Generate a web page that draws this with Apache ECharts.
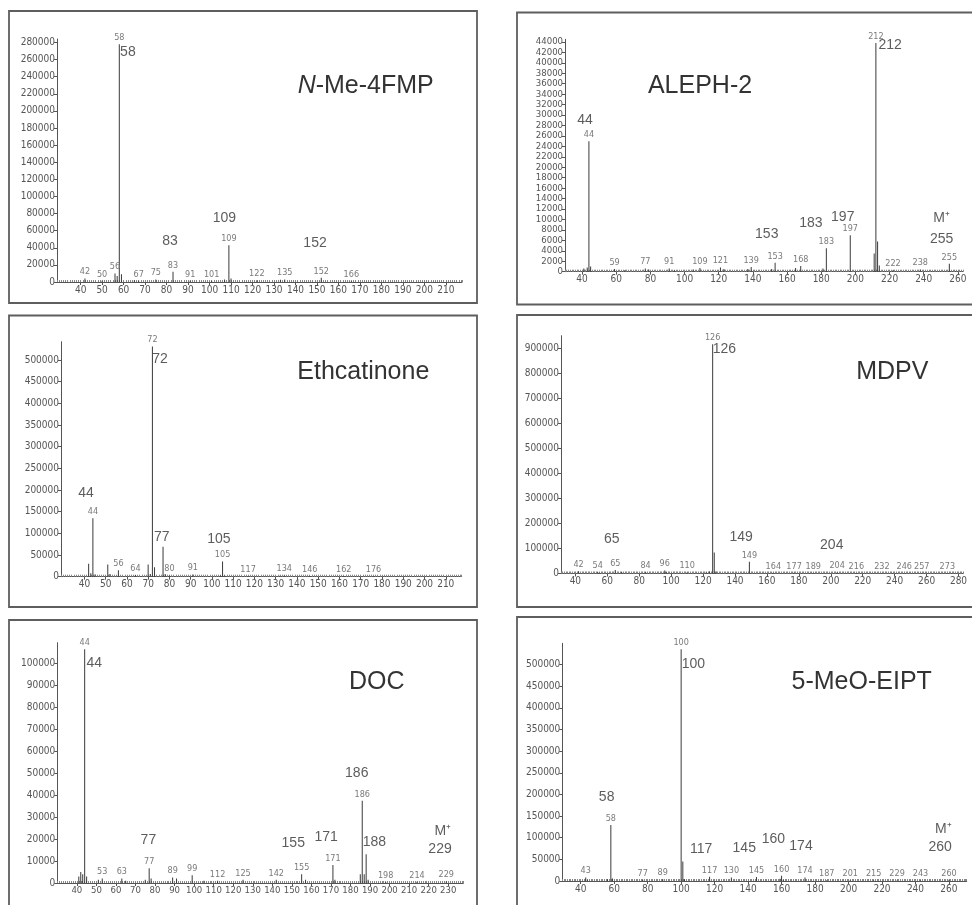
<!DOCTYPE html>
<html><head><meta charset="utf-8">
<script src="https://cdn.jsdelivr.net/npm/echarts@6/dist/echarts.min.js"></script>
<style>html,body{margin:0;padding:0;background:#fff}#c{width:972px;height:905px}</style>
</head><body><div id="c"></div>
<script>
// ---------- Panel 1: N-Me-4FMP ----------
const p1Title = '{i|N}-Me-4FMP';
const p1Mass = [42,50,56,57,58,59,65,67,75,83,91,101,107,109,110,122,133,135,152,166];
const p1Int  = [4000,1500,10000,7000,278000,9000,2000,1500,3000,12000,1500,1500,3000,43000,4000,2000,2500,3000,5000,1000];
const p1Labeled = [42,50,56,58,67,75,83,91,101,109,122,135,152,166];
const p1AnnText = ['58','83','109','152'];
const p1AnnMass = [62.0,81.6,106.9,149.1];
const p1AnnInt  = [268800,47900,74400,45900];
const p1XTicks = [40,50,60,70,80,90,100,110,120,130,140,150,160,170,180,190,200,210];
const p1YTicks = [0,20000,40000,60000,80000,100000,120000,140000,160000,180000,200000,220000,240000,260000,280000];

// ---------- Panel 2: ALEPH-2 ----------
const p2Title = 'ALEPH-2';
const p2Mass = [41,43,44,45,59,65,77,79,91,94,105,109,121,123,137,139,151,153,165,168,181,183,197,211,212,213,214,222,238,255];
const p2Int  = [600,800,25000,1000,500,300,600,400,600,300,400,700,800,500,500,900,500,1700,700,1100,600,4500,7000,3500,43800,5800,1200,300,400,1500];
const p2Labeled = [44,59,77,91,109,121,139,153,168,183,197,212,222,238,255];
const p2AnnText = ['44','212','153','183','197','M\u207A','255'];
const p2AnnMass = [41.7,220.3,148.1,174.0,192.6,250.5,250.5];
const p2AnnInt  = [29050,43400,7160,9380,10530,10230,6260];
const p2XTicks = [40,60,80,100,120,140,160,180,200,220,240,260];
const p2YTicks = [0,2000,4000,6000,8000,10000,12000,14000,16000,18000,20000,22000,24000,26000,28000,30000,32000,34000,36000,38000,40000,42000,44000];

// ---------- Panel 3: Ethcatinone ----------
const p3Title = 'Ethcatinone';
const p3Mass = [42,43,44,45,51,52,56,64,70,71,72,73,77,78,80,91,104,105,106,117,132,134,146,162,176];
const p3Int  = [30000,8000,135000,5000,28000,6000,15000,4000,28000,6000,531000,22000,69000,6000,3000,5000,3000,35000,3000,1500,2000,3000,1500,1500,1000];
const p3Labeled = [44,56,64,72,80,91,105,117,134,146,162,176];
const p3AnnText = ['44','72','77','105'];
const p3AnnMass = [40.8,75.6,76.4,103.3];
const p3AnnInt  = [193700,501400,90900,86300];
const p3XTicks = [40,50,60,70,80,90,100,110,120,130,140,150,160,170,180,190,200,210];
const p3YTicks = [0,50000,100000,150000,200000,250000,300000,350000,400000,450000,500000];

// ---------- Panel 4: MDPV ----------
const p4Title = 'MDPV';
const p4Mass = [42,54,55,65,69,84,96,97,110,122,124,126,127,128,135,149,164,177,189,204,216,232,246,257,273];
const p4Int  = [9000,5000,3000,14000,6000,5000,12000,5000,4000,5000,8000,917000,84000,8000,2000,47000,3000,3000,2000,5000,2000,1000,1000,1000,1000];
const p4Labeled = [42,54,65,84,96,110,126,149,164,177,189,204,216,232,246,257,273];
const p4AnnText = ['65','126','149','204'];
const p4AnnMass = [62.8,133.3,143.8,200.6];
const p4AnnInt  = [136800,896600,147200,114000];
const p4XTicks = [40,60,80,100,120,140,160,180,200,220,240,260,280];
const p4YTicks = [0,100000,200000,300000,400000,500000,600000,700000,800000,900000];

// ---------- Panel 5: DOC ----------
const p5Title = 'DOC';
const p5Mass = [41,42,43,44,45,51,53,63,65,75,77,78,89,91,99,105,112,125,142,155,157,171,172,185,186,187,188,189,198,214,229];
const p5Int  = [3000,5000,4000,106600,3000,1500,2000,2000,1000,1500,6700,2000,2500,2000,3500,1000,1000,1500,1500,4000,1500,8200,1500,4000,37500,4000,13100,1500,500,600,800];
const p5Labeled = [44,53,63,77,89,99,112,125,142,155,171,186,198,214,229];
const p5AnnText = ['44','77','155','171','186','188','M\u207A','229'];
const p5AnnMass = [48.9,76.6,150.7,167.5,183.2,192.2,227.2,225.8];
const p5AnnInt  = [100200,19600,18100,21100,50000,18800,23700,15500];
const p5XTicks = [40,50,60,70,80,90,100,110,120,130,140,150,160,170,180,190,200,210,220,230];
const p5YTicks = [0,10000,20000,30000,40000,50000,60000,70000,80000,90000,100000];

// ---------- Panel 6: 5-MeO-EIPT ----------
const p6Title = '5-MeO-EIPT';
const p6Mass = [43,44,56,58,59,77,89,100,101,102,117,130,145,159,160,161,174,187,201,215,229,243,260];
const p6Int  = [8000,3000,4000,129400,6000,3000,4000,535000,45000,4000,10000,8000,9000,5000,12000,3000,8000,2000,2000,1000,1000,1000,3000];
const p6Labeled = [43,58,77,89,100,117,130,145,160,174,187,201,215,229,243,260];
const p6AnnText = ['58','100','117','145','160','174','M\u207A','260'];
const p6AnnMass = [55.5,107.3,111.9,137.7,155.1,171.6,256.6,254.7];
const p6AnnInt  = [194700,500500,73900,76900,96300,80800,120100,77800];
const p6XTicks = [40,60,80,100,120,140,160,180,200,220,240,260];
const p6YTicks = [0,50000,100000,150000,200000,250000,300000,350000,400000,450000,500000,550000];

// ---------- layout (positions / ranges) ----------
const panels = [
  {title:p1Title, mass:p1Mass, int:p1Int, lab:p1Labeled, at:p1AnnText, am:p1AnnMass, ai:p1AnnInt, xt:p1XTicks, yt:p1YTicks,
   grid:{left:57, top:39, width:405, height:243}, xr:[29,217.5], ymax:284000, box:[9,11,468,292], tp:[365.7,85.7], yfs:10, xfs:10},
  {title:p2Title, mass:p2Mass, int:p2Int, lab:p2Labeled, at:p2AnnText, am:p2AnnMass, ai:p2AnnInt, xt:p2XTicks, yt:p2YTicks,
   grid:{left:565, top:39.3, width:398, height:232.4}, xr:[30,263], ymax:44500, box:[517,12.5,470,292], tp:[700,86], yfs:9.5, xfs:10},
  {title:p3Title, mass:p3Mass, int:p3Int, lab:p3Labeled, at:p3AnnText, am:p3AnnMass, ai:p3AnnInt, xt:p3XTicks, yt:p3YTicks,
   grid:{left:61, top:341.7, width:400.7, height:235}, xr:[29,217.5], ymax:542000, box:[9,315.5,468,291.5], tp:[363.3,371.7], yfs:10, xfs:10},
  {title:p4Title, mass:p4Mass, int:p4Int, lab:p4Labeled, at:p4AnnText, am:p4AnnMass, ai:p4AnnInt, xt:p4XTicks, yt:p4YTicks,
   grid:{left:561, top:335.7, width:402.3, height:237.8}, xr:[31,283], ymax:951000, box:[517,315,470,292], tp:[892.3,371.7], yfs:10, xfs:10},
  {title:p5Title, mass:p5Mass, int:p5Int, lab:p5Labeled, at:p5AnnText, am:p5AnnMass, ai:p5AnnInt, xt:p5XTicks, yt:p5YTicks,
   grid:{left:57.3, top:642.7, width:406, height:240.3}, xr:[30,237.7], ymax:109600, box:[9,620,468,300], tp:[376.7,681.7], yfs:10, xfs:9.5},
  {title:p6Title, mass:p6Mass, int:p6Int, lab:p6Labeled, at:p6AnnText, am:p6AnnMass, ai:p6AnnInt, xt:p6XTicks, yt:p6YTicks,
   grid:{left:562.3, top:643.3, width:404.4, height:237.7}, xr:[29,270.6], ymax:549000, box:[517,617,470,300], tp:[861.7,681.7], yfs:10, xfs:10}
];

const NARROW = '"Liberation Sans Narrow", "DejaVu Sans Condensed", "Liberation Sans", sans-serif';
const SANS = '"Liberation Sans", Arial, sans-serif';
const AX = '#555';
const plain = (v) => String(v);

const grid = [], xAxis = [], yAxis = [], series = [], graphic = [];
panels.forEach((p, i) => {
  grid.push(Object.assign({containLabel:false, outerBoundsMode:'none'}, p.grid));
  xAxis.push({
    type:'value', gridIndex:i, min:p.xr[0], max:p.xr[1], position:'bottom',
    axisLine:{show:true, onZero:false, lineStyle:{color:AX, width:1}},
    axisTick:{show:true, customValues:p.xt, length:3, lineStyle:{color:AX}},
    axisLabel:{show:true, customValues:p.xt, formatter:plain, fontSize:p.xfs, fontFamily:NARROW, color:'#555', margin:3},
    splitLine:{show:false}
  });
  xAxis.push({
    type:'value', gridIndex:i, min:p.xr[0], max:p.xr[1], interval:1, position:'bottom',
    axisLine:{show:false, onZero:false},
    axisTick:{show:true, length:2, inside:true, lineStyle:{color:'#888'}},
    axisLabel:{show:false}, splitLine:{show:false}
  });
  yAxis.push({
    type:'value', gridIndex:i, min:0, max:p.ymax,
    axisLine:{show:true, lineStyle:{color:AX, width:1}},
    axisTick:{show:true, customValues:p.yt, length:3, lineStyle:{color:AX}},
    axisLabel:{show:true, customValues:p.yt, formatter:plain, fontSize:p.yfs, fontFamily:NARROW, color:'#555', margin:2},
    splitLine:{show:false}
  });
  const lab = p.lab;
  series.push({
    type:'bar', xAxisIndex:2*i, yAxisIndex:i, barWidth:1, silent:true, animation:false,
    itemStyle:{color:'#3a3a3a'},
    data:p.mass.map((m,k)=>[m, p.int[k]]),
    label:{show:true, position:'top', distance:2, fontSize:9, fontFamily:NARROW, color:'#7a7a7a',
      formatter:(d)=> lab.includes(d.value[0]) ? String(d.value[0]) : ''}
  });
  series.push({
    type:'scatter', xAxisIndex:2*i, yAxisIndex:i, symbolSize:1, silent:true, animation:false,
    itemStyle:{color:'rgba(0,0,0,0)'},
    data:p.at.map((t,k)=>({name:t, value:[p.am[k], p.ai[k]]})),
    label:{show:true, position:'inside', formatter:'{b}', fontSize:14, fontFamily:SANS, color:'#333'}
  });
  graphic.push({type:'rect', silent:true, shape:{x:p.box[0], y:p.box[1], width:p.box[2], height:p.box[3]},
    style:{fill:'none', stroke:'#5e5e5e', lineWidth:1.8}});
  graphic.push({type:'text', silent:true, x:p.tp[0], y:p.tp[1],
    style:{text:p.title, fontSize:25, fontFamily:SANS, fill:'#333', align:'center', verticalAlign:'middle',
      rich:{i:{fontStyle:'italic', fontSize:25, fontFamily:SANS, fill:'#333'}}}});
});

const chart = echarts.init(document.getElementById('c'), null, {renderer:'canvas', width:972, height:905});
chart.setOption({backgroundColor:'#fff', animation:false, grid, xAxis, yAxis, series, graphic});
</script>
</body></html>
